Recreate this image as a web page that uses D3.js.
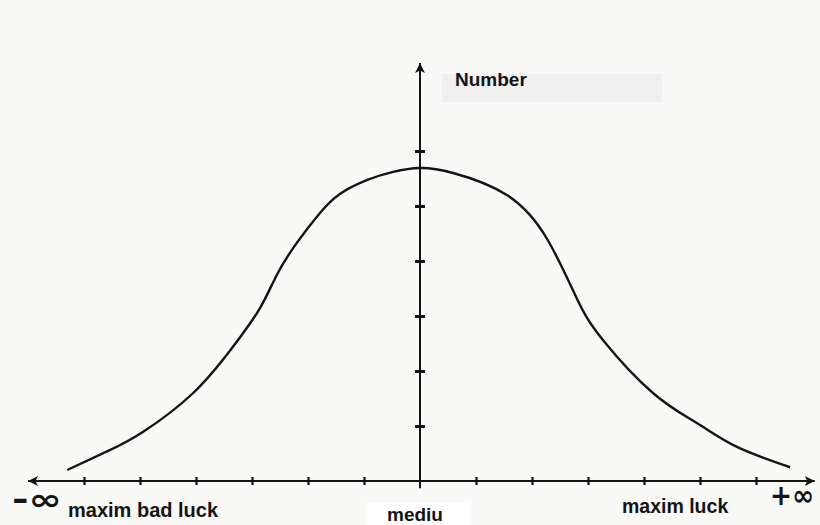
<!DOCTYPE html>
<html><head><meta charset="utf-8">
<script src="https://cdn.jsdelivr.net/npm/d3@7"></script>
<style>html,body{margin:0;padding:0;background:#f9f9f8;}svg{display:block;}</style>
</head><body>
<script>
// Curve points: x in "tick units" from the median, y in "tick units" above the x axis
const curveX = [-6.30,-5.54,-4.95,-4.05,-3.34,-2.86,-2.55,-2.20,-1.79,-1.43,-0.95,-0.48,0,0.59,1.55,2.27,2.80,3.27,4.16,4.95,5.66,6.61];
const curveY = [0.20,0.56,0.89,1.60,2.44,3.14,3.76,4.33,4.87,5.22,5.47,5.62,5.69,5.60,5.20,4.40,3.32,2.56,1.60,1.05,0.62,0.25];
const xTicks = [-6,-5,-4,-3,-2,-1,1,2,3,4,5,6];
const yTicks = [1,2,3,4,5,6];
const labels = ["maxim bad luck","mediu","maxim luck"];
const infLabels = ["-\u221E","+\u221E"];
const axisTitle = "Number";

const W = 820, H = 525;
const svg = d3.select("body").append("svg").attr("width", W).attr("height", H);
svg.append("rect").attr("width", W).attr("height", H).attr("fill", "#f9f9f8");

const x = d3.scaleLinear().domain([-6, 6]).range([84, 756]);
const y = d3.scaleLinear().domain([0, 6]).range([481, 151]);

const ink = "#141414";
const defs = svg.append("defs");
defs.append("marker").attr("id","arr").attr("viewBox","0 0 10 10").attr("refX",10).attr("refY",5)
  .attr("markerWidth",9).attr("markerHeight",5).attr("orient","auto-start-reverse").attr("markerUnits","strokeWidth")
  .append("path").attr("d","M0,0L10,5L0,10L2.5,5Z").attr("fill", ink);

// X axis line with arrows both ends
svg.append("line").attr("x1", x(-7.0)).attr("x2", x(7.05)).attr("y1", y(0)).attr("y2", y(0))
  .attr("stroke", ink).attr("stroke-width", 2).attr("marker-start","url(#arr)").attr("marker-end","url(#arr)");
// Y axis
svg.append("line").attr("x1", x(0)).attr("x2", x(0)).attr("y1", y(-0.13)).attr("y2", y(7.6))
  .attr("stroke", ink).attr("stroke-width", 2).attr("marker-end","url(#arr)");

// x ticks via axis
const gx = svg.append("g").attr("transform", `translate(0,${y(0)})`)
  .call(d3.axisBottom(x).tickValues(xTicks).tickSize(5).tickFormat(""));
gx.select(".domain").remove();
gx.selectAll(".tick line").attr("y1", -4).attr("y2", 4).attr("stroke", ink).attr("stroke-width", 2.2);

const gy = svg.append("g").attr("transform", `translate(${x(0)},0)`)
  .call(d3.axisLeft(y).tickValues(yTicks).tickSize(5).tickFormat(""));
gy.select(".domain").remove();
gy.selectAll(".tick line").attr("x1", -5).attr("x2", 5).attr("stroke", ink).attr("stroke-width", 3);

// curve
const pts = curveX.map((d, i) => [d, curveY[i]]);
svg.append("path").datum(pts)
  .attr("d", d3.line().x(d => x(d[0])).y(d => y(d[1])).curve(d3.curveNatural))
  .attr("fill", "none").attr("stroke", ink).attr("stroke-width", 2.4);

const lf = "Liberation Sans, Arial, sans-serif";
// title box and text
svg.append("rect").attr("x", 442).attr("y", 74).attr("width", 220).attr("height", 28).attr("fill", "#f0f0f0");
svg.append("text").attr("x", 455).attr("y", 86).text(axisTitle)
  .attr("font-family", lf).attr("font-weight", "bold").attr("font-size", 19).attr("fill", ink);

// bottom labels
svg.append("rect").attr("x", 366).attr("y", 503).attr("width", 104).attr("height", 22).attr("fill", "#ffffff");
svg.append("text").attr("x", 68).attr("y", 517).text(labels[0])
  .attr("font-family", lf).attr("font-weight", "bold").attr("font-size", 20).attr("fill", ink);
svg.append("text").attr("x", 387).attr("y", 521).text(labels[1])
  .attr("font-family", lf).attr("font-weight", "bold").attr("font-size", 19).attr("fill", ink);
svg.append("text").attr("x", 622).attr("y", 513).text(labels[2])
  .attr("font-family", lf).attr("font-weight", "bold").attr("font-size", 19.5).attr("fill", ink);
svg.append("text").attr("x", 12).attr("y", 510).text(infLabels[0])
  .attr("textLength", 50).attr("lengthAdjust", "spacingAndGlyphs")
  .attr("font-family", "DejaVu Sans, sans-serif").attr("font-weight", "bold").attr("font-size", 30).attr("fill", ink);
svg.append("text").attr("x", 770).attr("y", 505).text(infLabels[1])
  .attr("textLength", 44).attr("lengthAdjust", "spacingAndGlyphs")
  .attr("font-family", "DejaVu Sans, sans-serif").attr("font-weight", "bold").attr("font-size", 28).attr("fill", ink);
</script>
</body></html>
